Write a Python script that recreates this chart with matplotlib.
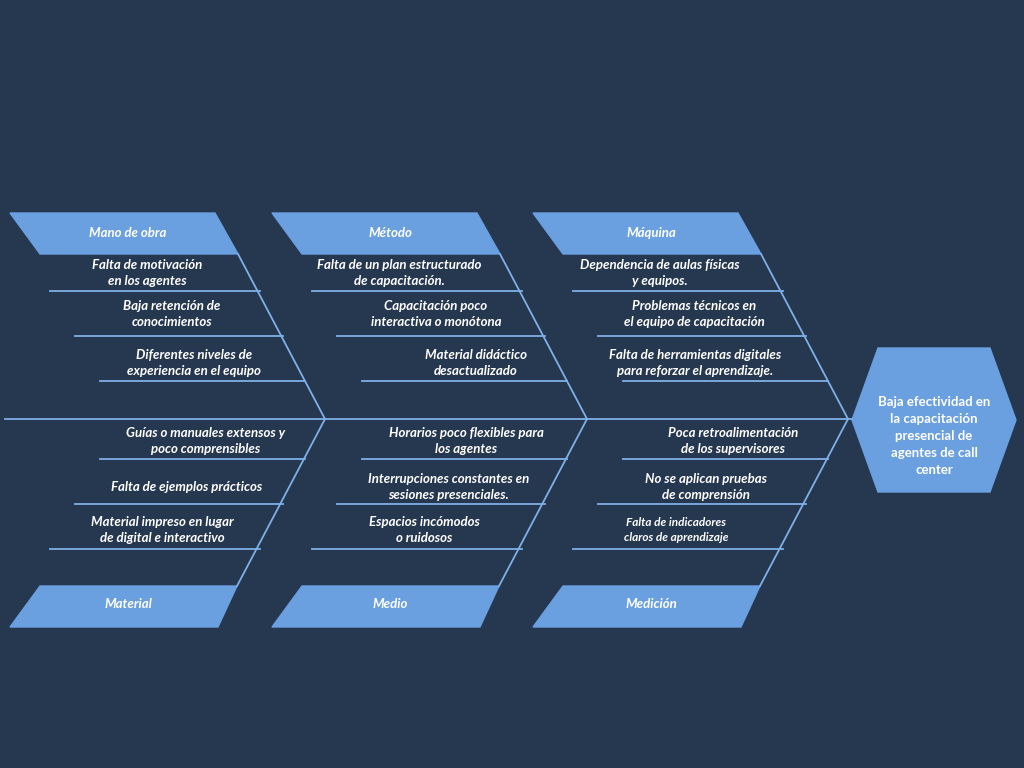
import matplotlib.pyplot as plt
from matplotlib.patches import Polygon

bg = "#263750"
box_c = "#6a9fe0"
line_c = "#7fb0e8"

top_cats = ["Mano de obra", "Método", "Máquina"]
bottom_cats = ["Material", "Medio", "Medición"]
top_causes = [
    ["Falta de motivación\nen los agentes", "Baja retención de\nconocimientos",
     "Diferentes niveles de\nexperiencia en el equipo"],
    ["Falta de un plan estructurado\nde capacitación.", "Capacitación poco\ninteractiva o monótona",
     "Material didáctico\ndesactualizado"],
    ["Dependencia de aulas físicas\ny equipos.", "Problemas técnicos en\nel equipo de capacitación",
     "Falta de herramientas digitales\npara reforzar el aprendizaje."],
]
bottom_causes = [
    ["Guías o manuales extensos y\npoco comprensibles", "Falta de ejemplos prácticos",
     "Material impreso en lugar\nde digital e interactivo"],
    ["Horarios poco flexibles para\nlos agentes", "Interrupciones constantes en\nsesiones presenciales.",
     "Espacios incómodos\no ruidosos"],
    ["Poca retroalimentación\nde los supervisores", "No se aplican pruebas\nde comprensión",
     "Falta de indicadores\nclaros de aprendizaje"],
]
effect = "Baja efectividad en\nla capacitación\npresencial de\nagentes de call\ncenter"

offsets = [0, 262, 523]
font = dict(color="white", fontweight="bold", fontstyle="italic", family=["Lato", "DejaVu Sans"])

fig = plt.figure(figsize=(10.24, 7.68), dpi=100)
fig.patch.set_facecolor(bg)
ax = fig.add_axes([0, 0, 1, 1])
ax.set_xlim(0, 1024)
ax.set_ylim(768, 0)
ax.axis("off")

# spine
ax.plot([5, 852], [419, 419], color=line_c, lw=1.3)

top_text_x = [[147, 172, 194], [399, 436, 476], [660, 694, 695]]
top_text_y = [273, 314, 363]
bot_text_x = [[206, 187, 162], [466, 449, 424], [733, 706, 676]]
bot_text_y = [441, 487, 530]

for i, off in enumerate(offsets):
    # top box
    ax.add_patch(Polygon([(10 + off, 213), (215 + off, 213), (238 + off, 254), (40 + off, 254)],
                         color=box_c))
    ax.text(128 + off, 233, top_cats[i], ha="center", va="center", fontsize=9.5, **font)
    ax.plot([238 + off, 325 + off], [254, 419], color=line_c, lw=1.3)
    # bottom box
    ax.add_patch(Polygon([(40 + off, 586), (237 + off, 586), (218 + off, 627), (10 + off, 627)],
                         color=box_c))
    ax.text(128 + off, 604, bottom_cats[i], ha="center", va="center", fontsize=9.5, **font)
    ax.plot([325 + off, 237 + off], [419, 586], color=line_c, lw=1.3)
    # sub-bones
    for j, (y, x0, x1) in enumerate([(291, 50, 260), (336, 75, 283), (381, 100, 305)]):
        ax.plot([x0 + off, x1 + off], [y, y], color=line_c, lw=1.3)
        ax.text(top_text_x[i][j], top_text_y[j], top_causes[i][j], ha="center", va="center",
                fontsize=9.5, linespacing=1.45, **font)
    for j, (y, x0, x1) in enumerate([(459, 100, 305), (504, 75, 283), (549, 50, 260)]):
        ax.plot([x0 + off, x1 + off], [y, y], color=line_c, lw=1.3)
        fs = 8.5 if (i == 2 and j == 2) else 9.5
        ax.text(bot_text_x[i][j], bot_text_y[j], bottom_causes[i][j], ha="center", va="center",
                fontsize=fs, linespacing=1.45, **font)

# effect hexagon
ax.add_patch(Polygon([(852, 420), (878, 348), (990, 348), (1016, 420), (990, 492), (878, 492)],
                     color=box_c))
ax.text(934, 436, effect, ha="center", va="center", fontsize=9.5, linespacing=1.5,
        color="white", fontweight="bold", family=["Lato", "DejaVu Sans"])

fig.savefig("out.png", dpi=100, facecolor=bg)
